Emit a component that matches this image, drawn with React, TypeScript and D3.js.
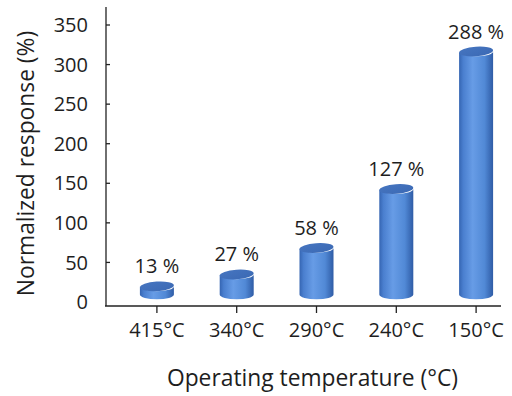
import React from "react";
import * as d3 from "d3";

const categories = ["415°C", "340°C", "290°C", "240°C", "150°C"];
const values = [13, 27, 58, 127, 288];
const valueLabels = ["13 %", "27 %", "58 %", "127 %", "288 %"];
const yTicks = [0, 50, 100, 150, 200, 250, 300, 350];

const W = 512;
const H = 396;
const FONT = "'Open Sans', 'Liberation Sans', sans-serif";
const TEXT = "#1e1e1e";

export default function App() {
  const x = d3.scaleBand<string>().domain(categories).range([117, 516]).padding(0);
  const yAxis = d3.scaleLinear().domain([0, 350]).range([302, 25]);
  // bar scale (3D perspective: bars rise from the front floor)
  const yBar = d3.scaleLinear().domain([0, 350]).range([297.5, 297.5 - 0.854 * 350]);
  const floorCy = 294.5;
  const rx = 17;
  const ry = 4.8;

  const axisX0 = 105;
  const axisX1 = 501;
  const axisY = 306;

  return (
    <svg width={W} height={H} style={{ display: "block", position: "absolute", left: 0, top: 0 }} fontFamily={FONT}>
      <defs>
        <linearGradient id="body" x1="0" x2="1" y1="0" y2="0">
          <stop offset="0" stopColor="#3565b2" />
          <stop offset="0.12" stopColor="#4a7fcf" />
          <stop offset="0.4" stopColor="#679ce6" />
          <stop offset="0.75" stopColor="#5189d6" />
          <stop offset="1" stopColor="#2f5ca6" />
        </linearGradient>
        <linearGradient id="top" x1="0" x2="1" y1="0" y2="1">
          <stop offset="0" stopColor="#4675c0" />
          <stop offset="1" stopColor="#3b69b4" />
        </linearGradient>
      </defs>
      <rect width={W} height={H} fill="#fff" />

      {/* axes */}
      <line x1={106} x2={106} y1={7} y2={axisY} stroke="#222" strokeWidth={1.3} />
      <line x1={axisX0} x2={axisX1} y1={axisY} y2={axisY} stroke="#222" strokeWidth={1.3} />
      {yTicks.map((t) => (
        <g key={t}>
          {t > 0 && <line x1={106} x2={110} y1={yAxis(t)} y2={yAxis(t)} stroke="#222" strokeWidth={1.3} />}
          <text x={88} y={yAxis(t)} dy="0.36em" textAnchor="end" fontSize={20} fill={TEXT}>
            {t}
          </text>
        </g>
      ))}
      {categories.map((c) => {
        const cx = (x(c) as number) + x.bandwidth() / 2;
        return (
          <g key={c}>
            <line x1={cx} x2={cx} y1={axisY} y2={axisY + 7} stroke="#222" strokeWidth={1.3} />
            <text x={cx} y={337} textAnchor="middle" fontSize={20} fill={TEXT}>
              {c}
            </text>
          </g>
        );
      })}

      {/* cylinders */}
      {categories.map((c, i) => {
        const cx = (x(c) as number) + x.bandwidth() / 2;
        const topCy = yBar(values[i]);
        const l = cx - rx;
        const r = cx + rx;
        const d = `M${l},${topCy} L${l},${floorCy} A${rx},${ry} 0 0 0 ${r},${floorCy} L${r},${topCy} A${rx},${ry} 0 0 1 ${l},${topCy} Z`;
        return (
          <g key={c}>
            <path d={d} fill="url(#body)" />
            <ellipse cx={cx} cy={topCy} rx={rx} ry={ry} fill="url(#top)" transform={`rotate(-4 ${cx} ${topCy})`} />
            <text x={cx} y={topCy - 13} textAnchor="middle" fontSize={20} fill={TEXT}>
              {valueLabels[i]}
            </text>
          </g>
        );
      })}

      {/* titles */}
      <text x={312.5} y={386} textAnchor="middle" fontSize={22.8} fill={TEXT}>
        Operating temperature (°C)
      </text>
      <text transform="translate(34,163.5) rotate(-90)" textAnchor="middle" fontSize={22.8} fill={TEXT}>
        Normalized response (%)
      </text>
    </svg>
  );
}
